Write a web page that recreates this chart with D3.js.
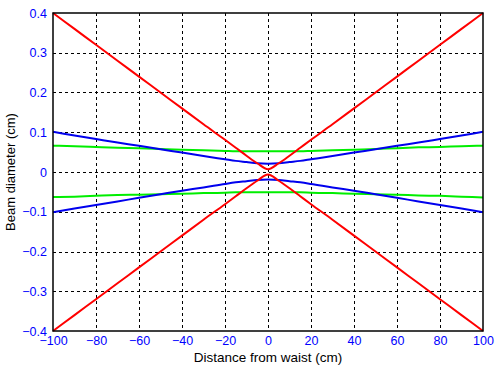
<!DOCTYPE html>
<html><head><meta charset="utf-8">
<script src="https://cdn.jsdelivr.net/npm/d3@7"></script>
<style>body{margin:0;background:#fff}svg{display:block}text{font-family:"Liberation Sans",Arial,sans-serif}</style>
</head><body>
<script>
const xTicks = [-100,-80,-60,-40,-20,0,20,40,60,80,100];
const yTicks = [-0.4,-0.3,-0.2,-0.1,0,0.1,0.2,0.3,0.4];
const zPos = [-100,-90,-80,-70,-60,-50,-40,-30,-20,-15,-10,-5,0,5,10,15,20,30,40,50,60,70,80,90,100];
const redUpper = [0.40,0.36,0.32,0.28,0.24,0.20,0.16,0.12,0.081,0.061,0.041,0.022,0.007,0.022,0.041,0.061,0.081,0.12,0.16,0.20,0.24,0.28,0.32,0.36,0.40];
const redLower = [-0.40,-0.36,-0.32,-0.28,-0.24,-0.20,-0.16,-0.12,-0.081,-0.061,-0.041,-0.022,-0.006,-0.022,-0.041,-0.061,-0.081,-0.12,-0.16,-0.20,-0.24,-0.28,-0.32,-0.36,-0.40];
const blueUpper = [0.101,0.092,0.083,0.074,0.066,0.057,0.049,0.040,0.032,0.028,0.025,0.022,0.021,0.022,0.025,0.028,0.032,0.040,0.049,0.057,0.066,0.074,0.083,0.092,0.101];
const blueLower = [-0.101,-0.092,-0.083,-0.074,-0.065,-0.056,-0.047,-0.039,-0.030,-0.026,-0.023,-0.020,-0.019,-0.020,-0.023,-0.026,-0.030,-0.039,-0.047,-0.056,-0.065,-0.074,-0.083,-0.092,-0.101];
const greenUpper = [0.066,0.065,0.063,0.061,0.060,0.058,0.056,0.055,0.053,0.052,0.052,0.052,0.052,0.052,0.052,0.052,0.053,0.055,0.056,0.058,0.060,0.062,0.063,0.065,0.066];
const greenLower = [-0.063,-0.062,-0.060,-0.058,-0.057,-0.056,-0.055,-0.053,-0.052,-0.051,-0.051,-0.051,-0.051,-0.051,-0.051,-0.051,-0.052,-0.053,-0.055,-0.056,-0.057,-0.059,-0.060,-0.062,-0.064];
const series = [
  {name:"green-u", vals:greenUpper, color:"#00ee00"},
  {name:"green-l", vals:greenLower, color:"#00ee00"},
  {name:"blue-u", vals:blueUpper, color:"#0000ee"},
  {name:"blue-l", vals:blueLower, color:"#0000ee"},
  {name:"red-u", vals:redUpper, color:"#ff0000"},
  {name:"red-l", vals:redLower, color:"#ff0000"}
];

const W=501,H=371, L=53,R=483,T=13,B=331;
const svg=d3.select("body").append("svg").attr("width",W).attr("height",H);
const x=d3.scaleLinear().domain([-100,100]).range([L,R]);
const y=d3.scaleLinear().domain([-0.4,0.4]).range([B,T]);

// grid
const g=svg.append("g");
g.selectAll("line.vx").data(xTicks.slice(1,-1)).enter().append("line")
 .attr("x1",d=>Math.round(x(d))+0.5).attr("x2",d=>Math.round(x(d))+0.5).attr("y1",T).attr("y2",B)
 .attr("stroke","#000").attr("stroke-dasharray","3,3").attr("shape-rendering","crispEdges");
g.selectAll("line.hy").data(yTicks.slice(1,-1)).enter().append("line")
 .attr("y1",d=>Math.round(y(d))+0.5).attr("y2",d=>Math.round(y(d))+0.5).attr("x1",L).attr("x2",R)
 .attr("stroke","#000").attr("stroke-dasharray","3,3").attr("shape-rendering","crispEdges");

// axes
const fmt=d=>d===0?"0":d3.format(".1f")(d);
const xa=svg.append("g").attr("transform",`translate(0,${B})`).call(d3.axisBottom(x).tickValues(xTicks).tickSize(0).tickPadding(5));
const ya=svg.append("g").attr("transform",`translate(${L},0)`).call(d3.axisLeft(y).tickValues(yTicks).tickFormat(fmt).tickSize(0).tickPadding(6));
[xa,ya].forEach(a=>{a.select(".domain").remove();a.selectAll("text").attr("fill","#0000ff").attr("font-size",12.5).attr("font-family","Liberation Sans, Arial, sans-serif");});

// lines
const line=d3.line().x((d,i)=>x(zPos[i])).y(d=>y(d)).curve(d3.curveMonotoneX);
svg.append("g").selectAll("path").data(series).enter().append("path")
 .attr("d",d=>line(d.vals)).attr("fill","none").attr("stroke",d=>d.color).attr("stroke-width",2);

// frame
svg.append("rect").attr("x",L).attr("y",T).attr("width",R-L).attr("height",B-T)
 .attr("fill","none").attr("stroke","#000").attr("stroke-width",1.5);

svg.append("text").attr("x",(L+R)/2).attr("y",362).attr("text-anchor","middle").attr("font-size",13.5).attr("fill","#000").text("Distance from waist (cm)");
svg.append("text").attr("transform",`translate(15,${(T+B)/2}) rotate(-90)`).attr("text-anchor","middle").attr("font-size",13).attr("fill","#000").text("Beam diameter (cm)");
</script>
</body></html>
